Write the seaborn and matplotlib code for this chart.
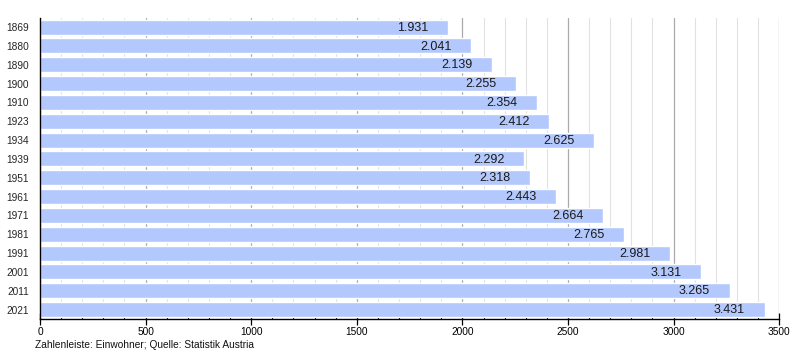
import matplotlib
matplotlib.use("Agg")
import matplotlib.pyplot as plt
import seaborn as sns
import pandas as pd
from matplotlib.ticker import MultipleLocator

years = ["1869", "1880", "1890", "1900", "1910", "1923", "1934", "1939",
         "1951", "1961", "1971", "1981", "1991", "2001", "2011", "2021"]
population = [1931, 2041, 2139, 2255, 2354, 2412, 2625, 2292,
              2318, 2443, 2664, 2765, 2981, 3131, 3265, 3431]

df = pd.DataFrame({"year": years, "pop": population})

sns.set_theme(style="white")
plt.rcParams['font.family'] = ['Liberation Sans', 'DejaVu Sans']

fig = plt.figure(figsize=(8, 3.6), dpi=100)
ax = fig.add_axes([0.05, 0.114, 0.924, 0.837])

ax.set_axisbelow(True)
ax.xaxis.set_major_locator(MultipleLocator(500))
ax.xaxis.set_minor_locator(MultipleLocator(100))
ax.grid(axis="x", which="major", color="#aaaaaa", linewidth=0.9)
ax.grid(axis="x", which="minor", color="#e2e2e2", linewidth=0.8)

sns.barplot(data=df, y="year", x="pop", orient="h", color="#b3c8fc",
            saturation=1, width=0.8, ax=ax, zorder=2)

for i, v in enumerate(population):
    ax.annotate(f"{v/1000:.3f}", xy=(v, i), xytext=(-14, -0.5),
                textcoords="offset points", ha="right", va="center",
                fontsize=9.0, color="#1a1a1a", zorder=3)

ax.set_xlim(0, 3500)
ax.set_ylim(15.5, -0.5)
ax.set_xlabel("")
ax.set_ylabel("")
for s in ["top", "right"]:
    ax.spines[s].set_visible(False)
for s in ["left", "bottom"]:
    ax.spines[s].set_color("black")
    ax.spines[s].set_linewidth(1.0)

ax.tick_params(axis="x", which="major", direction="inout", length=8, width=0.9,
               colors="black", labelsize=7.3, pad=2, bottom=True)
ax.tick_params(axis="x", which="minor", direction="in", length=4, width=0.8,
               colors="black", bottom=True)
ax.tick_params(axis="y", which="both", length=0, labelsize=7.3, pad=8)

fig.text(0.044, 0.027, "Zahlenleiste: Einwohner; Quelle: Statistik Austria",
         fontsize=7.3, ha="left", va="bottom", color="#111111")

fig.savefig("out.png", dpi=100)
